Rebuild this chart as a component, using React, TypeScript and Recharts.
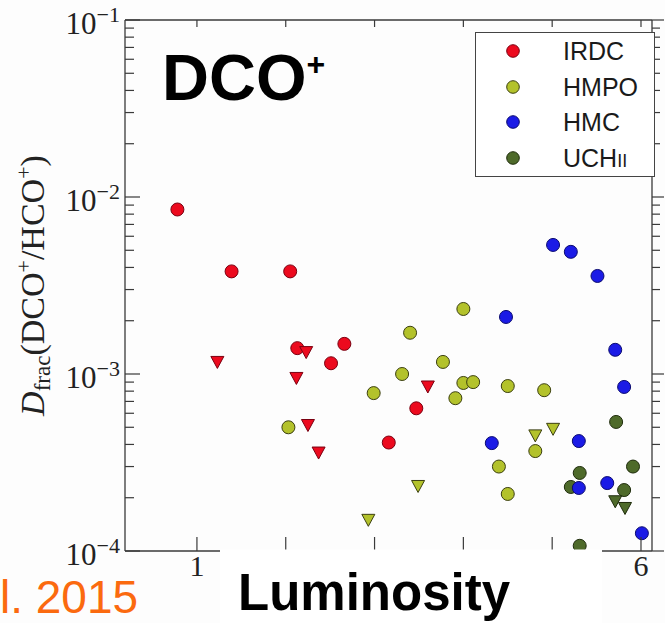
import { ScatterChart, Scatter, XAxis, YAxis, Legend } from 'recharts';

// Deuterium fraction of DCO+ vs luminosity (log scale), four source classes.
// Circles = detections, down-triangles = upper limits.
const SERIF = '"Liberation Serif", "DejaVu Serif", serif';
const SANS = '"Liberation Sans", Arial, sans-serif';
const AXIS = '#3a3a3a';

const X_DOMAIN = [0.19, 6.124];
const Y_DOMAIN = [1e-4, 1e-1];
const X_TICKS = [1, 2, 3, 4, 5, 6];
const X_LABELED = [1, 6];
const Y_TICKS = [
  1e-4, 2e-4, 3e-4, 4e-4, 5e-4, 6e-4, 7e-4, 8e-4, 9e-4,
  1e-3, 2e-3, 3e-3, 4e-3, 5e-3, 6e-3, 7e-3, 8e-3, 9e-3,
  1e-2, 2e-2, 3e-2, 4e-2, 5e-2, 6e-2, 7e-2, 8e-2, 9e-2,
  1e-1,
];

const IRDC_DET = [
  { l: 0.78, d: 8.5e-3 }, { l: 1.39, d: 3.8e-3 }, { l: 2.05, d: 3.8e-3 }, { l: 2.13, d: 1.4e-3 },
  { l: 2.66, d: 1.48e-3 }, { l: 2.51, d: 1.15e-3 }, { l: 3.47, d: 6.4e-4 }, { l: 3.16, d: 4.1e-4 },
];
const IRDC_LIM = [
  { l: 1.23, d: 1.17e-3 }, { l: 2.23, d: 1.33e-3 }, { l: 2.12, d: 9.5e-4 },
  { l: 2.25, d: 5.15e-4 }, { l: 2.37, d: 3.6e-4 }, { l: 3.6, d: 8.5e-4 },
];
const HMPO_DET = [
  { l: 2.03, d: 5.0e-4 }, { l: 4.0, d: 2.33e-3 }, { l: 3.4, d: 1.71e-3 }, { l: 3.77, d: 1.17e-3 },
  { l: 3.31, d: 1.0e-3 }, { l: 4.0, d: 8.9e-4 }, { l: 4.11, d: 9.0e-4 }, { l: 2.99, d: 7.8e-4 },
  { l: 3.91, d: 7.3e-4 }, { l: 4.5, d: 8.55e-4 }, { l: 4.91, d: 8.1e-4 }, { l: 4.81, d: 3.67e-4 },
  { l: 4.4, d: 3.0e-4 }, { l: 4.5, d: 2.1e-4 },
];
const HMPO_LIM = [
  { l: 3.49, d: 2.33e-4 }, { l: 2.93, d: 1.5e-4 }, { l: 4.81, d: 4.5e-4 }, { l: 5.01, d: 4.9e-4 },
];
const HMC_DET = [
  { l: 5.01, d: 5.36e-3 }, { l: 5.21, d: 4.9e-3 }, { l: 5.51, d: 3.58e-3 }, { l: 4.48, d: 2.1e-3 },
  { l: 5.71, d: 1.37e-3 }, { l: 5.81, d: 8.45e-4 }, { l: 4.32, d: 4.07e-4 }, { l: 5.3, d: 4.18e-4 },
  { l: 5.3, d: 2.27e-4 }, { l: 5.62, d: 2.42e-4 }, { l: 6.01, d: 1.26e-4 },
];
const UCHII_DET = [
  { l: 5.72, d: 5.36e-4 }, { l: 5.31, d: 2.76e-4 }, { l: 5.21, d: 2.3e-4 },
  { l: 5.91, d: 3.0e-4 }, { l: 5.81, d: 2.21e-4 }, { l: 5.31, d: 1.07e-4 },
];
const UCHII_LIM = [{ l: 5.71, d: 1.91e-4 }, { l: 5.82, d: 1.75e-4 }];

const COLORS = {
  IRDC: { fill: '#ec0a1e', edge: '#7a0010' },
  HMPO: { fill: '#b3c22b', edge: '#3b3f10' },
  HMC: { fill: '#1b1be6', edge: '#0a0a70' },
  UCHII: { fill: '#4e6a2a', edge: '#1f2c0c' },
};
const LEGEND_ORDER: (keyof typeof COLORS)[] = ['IRDC', 'HMPO', 'HMC', 'UCHII'];

const dot = (c: { fill: string; edge: string }) => (p: any) =>
  <circle cx={p.cx} cy={p.cy} r={6.5} fill={c.fill} stroke={c.edge} strokeWidth={1} />;
const tri = (c: { fill: string; edge: string }) => (p: any) =>
  <path d={`M${p.cx - 6.5},${p.cy - 5.5}L${p.cx + 6.5},${p.cy - 5.5}L${p.cx},${p.cy + 6.5}Z`} fill={c.fill} stroke={c.edge} strokeWidth={1} />;

const isMajor = (v: number) => {
  const e = Math.round(Math.log10(v));
  return Math.abs(v / Math.pow(10, e) - 1) < 1e-6;
};

function LeftTick({ x, y, payload }: any) {
  const v = payload.value;
  const e = Math.round(Math.log10(v));
  const major = isMajor(v);
  return (
    <g>
      <line x1={x} x2={x + (major ? 15 : 9)} y1={y} y2={y} stroke={AXIS} strokeWidth={1.2} />
      {major && (
        <text x={x - 5} y={y + 14} textAnchor="end" fontFamily={SERIF} fontSize={31} fill="#222">
          10<tspan fontSize={22} dy={-12}>−{Math.abs(e)}</tspan>
        </text>
      )}
    </g>
  );
}

function RightTick({ x, y, payload }: any) {
  const major = isMajor(payload.value);
  return <line x1={x} x2={x + (major ? 12 : 8)} y1={y} y2={y} stroke={AXIS} strokeWidth={1.2} />;
}

function BottomTick({ x, y, payload }: any) {
  return (
    <g>
      <line x1={x} x2={x} y1={y} y2={y - 14} stroke={AXIS} strokeWidth={1.2} />
      {X_LABELED.includes(payload.value) && (
        <text x={x} y={y + 25} textAnchor="middle" fontFamily={SERIF} fontSize={30} fill="#222">{payload.value}</text>
      )}
    </g>
  );
}

function TopTick({ x, y }: any) {
  return <line x1={x} x2={x} y1={y} y2={y + 7} stroke={AXIS} strokeWidth={1.2} />;
}

function YLabel({ viewBox }: any) {
  const cx = viewBox.x + 44;
  const cy = viewBox.y + viewBox.height / 2;
  return (
    <text x={cx} y={cy} transform={`rotate(-90, ${cx}, ${cy})`} textAnchor="middle" fontFamily={SERIF} fontSize={34} fill="#222">
      <tspan fontStyle="italic">D</tspan>
      <tspan fontSize={23} dy={6}>frac</tspan>
      <tspan dy={-6}>(DCO</tspan>
      <tspan fontSize={22} dy={-13}>+</tspan>
      <tspan dy={13}>/HCO</tspan>
      <tspan fontSize={22} dy={-13}>+</tspan>
      <tspan dy={13}>)</tspan>
    </text>
  );
}

function LegendBox() {
  return (
    <div style={{ position: 'relative', width: 180, height: 145, boxSizing: 'border-box', border: '1.3px solid #444', background: '#fff' }}>
      {LEGEND_ORDER.map((k, i) => {
        const cy = 18 + i * 35.7;
        return (
          <div key={k}>
            <svg width={16} height={16} style={{ position: 'absolute', left: 29, top: cy - 8 }}>
              <circle cx={8} cy={8} r={6.3} fill={COLORS[k].fill} stroke={COLORS[k].edge} strokeWidth={1} />
            </svg>
            <span style={{ position: 'absolute', left: 87, top: cy - 15, fontFamily: SANS, fontSize: 25, color: '#1a1a1a', lineHeight: '30px', whiteSpace: 'nowrap' }}>
              {k === 'UCHII' ? <>UCH<span style={{ fontSize: 18 }}>II</span></> : k}
            </span>
          </div>
        );
      })}
    </div>
  );
}

export default function App() {
  const axisLine = { stroke: AXIS, strokeWidth: 1.3 };
  return (
    <div style={{ position: 'absolute', left: 0, top: 0, width: 665, height: 623, background: '#fdfdfd', overflow: 'hidden' }}>
      <ScatterChart width={665} height={623} margin={{ top: 0, right: 0, bottom: 0, left: 0 }}>
        <XAxis xAxisId="b" orientation="bottom" type="number" dataKey="l" height={72} domain={X_DOMAIN} allowDataOverflow
          ticks={X_TICKS} interval={0} tickSize={0} tickMargin={0} tick={<BottomTick />} axisLine={axisLine} />
        <XAxis xAxisId="t" orientation="top" type="number" dataKey="l" height={20} domain={X_DOMAIN} allowDataOverflow
          ticks={X_TICKS} interval={0} tickSize={0} tickMargin={0} tick={<TopTick />} axisLine={axisLine} />
        <YAxis yAxisId="l" type="number" dataKey="d" scale="log" width={125} domain={Y_DOMAIN} allowDataOverflow
          ticks={Y_TICKS} interval={0} tickSize={0} tickMargin={0} tick={<LeftTick />} axisLine={axisLine}
          label={{ content: YLabel }} />
        <YAxis yAxisId="r" orientation="right" type="number" dataKey="d" scale="log" width={13} domain={Y_DOMAIN} allowDataOverflow
          ticks={Y_TICKS} interval={0} tickSize={0} tickMargin={0} tick={<RightTick />} axisLine={axisLine} />
        <Legend layout="vertical" verticalAlign="middle" align="center" content={<LegendBox />}
          wrapperStyle={{ left: 475, top: 32, width: 180, height: 145 }} />
        <Scatter name="IRDC" data={IRDC_DET} xAxisId="b" yAxisId="l" shape={dot(COLORS.IRDC)} isAnimationActive={false} />
        <Scatter name="IRDC limits" data={IRDC_LIM} xAxisId="b" yAxisId="l" shape={tri(COLORS.IRDC)} isAnimationActive={false} />
        <Scatter name="HMPO" data={HMPO_DET} xAxisId="b" yAxisId="l" shape={dot(COLORS.HMPO)} isAnimationActive={false} />
        <Scatter name="HMPO limits" data={HMPO_LIM} xAxisId="b" yAxisId="l" shape={tri(COLORS.HMPO)} isAnimationActive={false} />
        <Scatter name="UCHII" data={UCHII_DET} xAxisId="b" yAxisId="l" shape={dot(COLORS.UCHII)} isAnimationActive={false} />
        <Scatter name="UCHII limits" data={UCHII_LIM} xAxisId="b" yAxisId="l" shape={tri(COLORS.UCHII)} isAnimationActive={false} />
        <Scatter name="HMC" data={HMC_DET} xAxisId="b" yAxisId="l" shape={dot(COLORS.HMC)} isAnimationActive={false} />
      </ScatterChart>
      <svg width={665} height={623} style={{ position: 'absolute', left: 0, top: 0, pointerEvents: 'none' }}>
        <text x={162} y={100} fontFamily={SANS} fontWeight="bold" fontSize={65} fill="#000">
          DCO<tspan fontSize={32} dy={-25}>+</tspan>
        </text>
        <text x={0} y={613} fontFamily={SANS} fontSize={46} fill="#fb6a0f">l. 2015</text>
        <rect x={220} y={549.5} width={382} height={74} fill="#fff" />
        <text x={238} y={610} fontFamily={SANS} fontWeight="bold" fontSize={51} fill="#000">Luminosity</text>
      </svg>
    </div>
  );
}
